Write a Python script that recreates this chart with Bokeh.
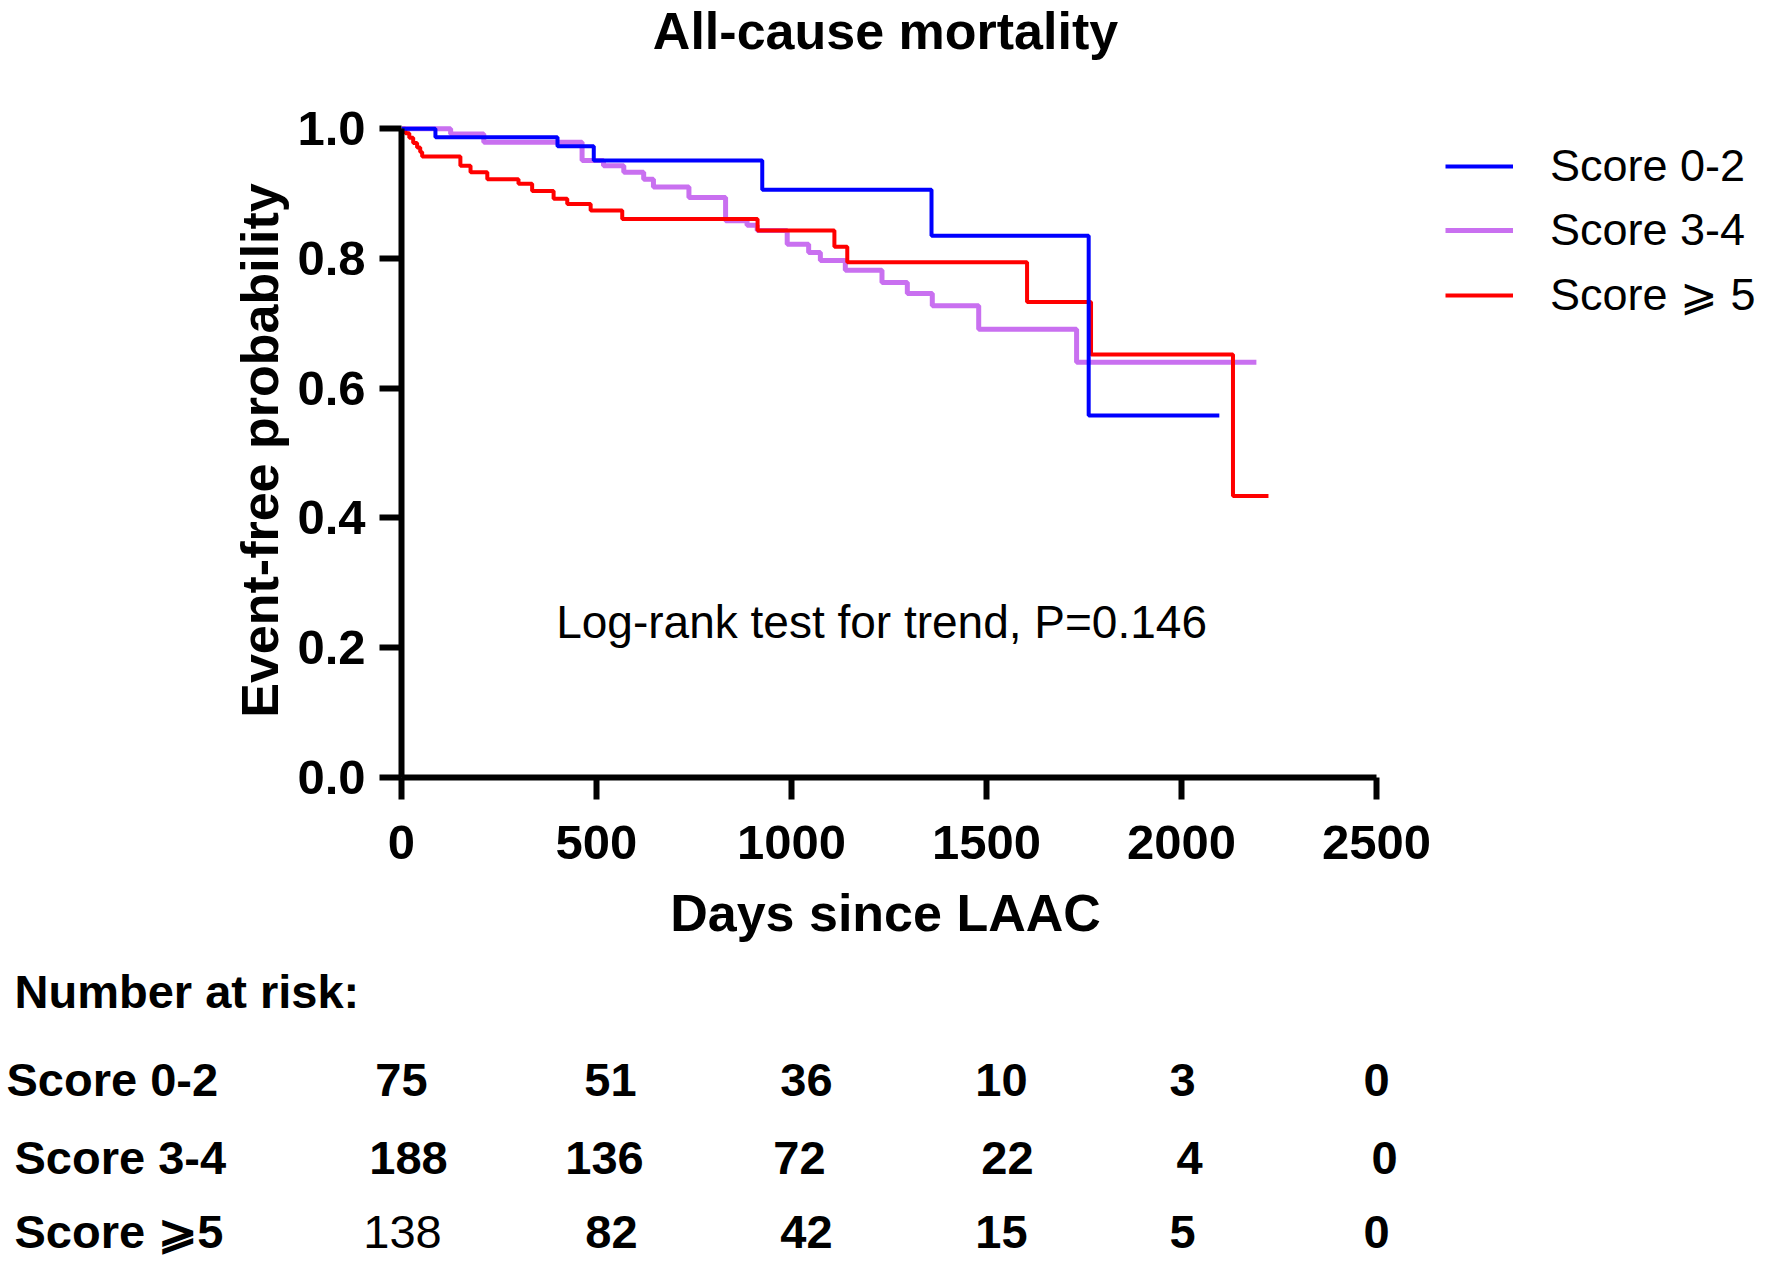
from bokeh.plotting import figure
from bokeh.models import (Range1d, FixedTicker, NumeralTickFormatter, Label,
                          ColumnDataSource, Legend, LegendItem)
from bokeh.core.properties import value
from bokeh.embed import file_html
from bokeh.resources import INLINE

# ---------------- data ----------------
title_text = "All-cause mortality"
x_label = "Days since LAAC"
y_label = "Event-free probability"
note_text = "Log-rank test for trend, P=0.146"
x_ticks = [0, 500, 1000, 1500, 2000, 2500]
y_ticks = [0.0, 0.2, 0.4, 0.6, 0.8, 1.0]

series_names = ["Score 0-2", "Score 3-4", "Score \u2a7e 5"]

t_02 = [0, 87, 400, 493, 925, 1359, 1762, 2097]
s_02 = [1.0, 0.987, 0.973, 0.951, 0.906, 0.835, 0.558, 0.558]

t_34 = [0, 126, 211, 463, 518, 570, 621, 646, 737, 831, 886, 912, 989, 1044, 1074,
        1138, 1232, 1297, 1361, 1480, 1731, 2192]
s_34 = [1.0, 0.992, 0.979, 0.951, 0.943, 0.933, 0.922, 0.910, 0.894, 0.858, 0.851, 0.843,
        0.822, 0.809, 0.797, 0.782, 0.763, 0.746, 0.727, 0.691, 0.640, 0.640]

t_5 = [0, 10, 20, 30, 40, 48, 53, 151, 177, 220, 300, 335, 390, 425, 485, 566, 913,
       1110, 1143, 1604, 1768, 2132, 2223]
s_5 = [1.0, 0.993, 0.986, 0.978, 0.971, 0.964, 0.957, 0.943, 0.933, 0.922, 0.915, 0.904,
       0.892, 0.884, 0.874, 0.861, 0.843, 0.818, 0.794, 0.733, 0.652, 0.434, 0.434]

risk_header = "Number at risk:"
risk_times = [0, 500, 1000, 1500, 2000, 2500]
risk_labels = ["Score 0-2", "Score 3-4", "Score \u2a7e5"]
risk_02 = [75, 51, 36, 10, 3, 0]
risk_34 = [188, 136, 72, 22, 4, 0]
risk_5 = [138, 82, 42, 15, 5, 0]

# ---------------- style / layout ----------------
BLUE, PURPLE, RED = "#0000FF", "#C970F0", "#FF0000"
FONT = "Liberation Sans"
W = 1756
H_TOP = 62
FRAME_TOP = 123
FRAME_BOTTOM = 777
MAIN_BOTTOM = 880
H_MAIN = MAIN_BOTTOM - H_TOP
H_TABLE = 1258 - MAIN_BOTTOM
PX_PER_DAY = 0.39
FRAME_LEFT = 401
Y_END = 1.008
FULL_X = (-FRAME_LEFT / PX_PER_DAY, (W - FRAME_LEFT) / PX_PER_DAY)


def bare(h, top_px, bottom_px):
    f = figure(width=W, height=h, output_backend="svg", toolbar_location=None,
               x_range=Range1d(*FULL_X), y_range=Range1d(bottom_px, top_px),
               x_axis_location=None, y_axis_location=None,
               min_border_left=0, min_border_right=0, min_border_top=0, min_border_bottom=0)
    f.xgrid.visible = False
    f.ygrid.visible = False
    f.outline_line_color = None
    return f


def days_at(px):
    return (px - FRAME_LEFT) / PX_PER_DAY


# ---------------- title strip ----------------
top = bare(H_TOP, 0, H_TOP)
top.text(x=[days_at(885)], y=[30], text=[title_text], text_align="center",
         text_baseline="middle", text_font=value(FONT), text_font_style="bold",
         text_font_size="52px", text_color="black")

# ---------------- main plot ----------------
p = figure(width=W, height=H_MAIN, output_backend="svg", toolbar_location=None,
           x_range=Range1d(0, FULL_X[1]), y_range=Range1d(0, Y_END),
           min_border_left=FRAME_LEFT, min_border_right=0,
           min_border_top=FRAME_TOP - H_TOP, min_border_bottom=MAIN_BOTTOM - FRAME_BOTTOM)
p.xgrid.visible = False
p.ygrid.visible = False
p.outline_line_color = None
p.background_fill_color = "white"

rp = p.step(t_34, s_34, mode="after", line_color=PURPLE, line_width=5)
rr = p.step(t_5, s_5, mode="after", line_color=RED, line_width=4)
rb = p.step(t_02, s_02, mode="after", line_color=BLUE, line_width=4)

for ax in (p.xaxis[0], p.yaxis[0]):
    ax.axis_line_width = 6
    ax.axis_line_color = "black"
    ax.major_tick_line_width = 6
    ax.major_tick_line_color = "black"
    ax.major_tick_out = 22
    ax.major_tick_in = 0
    ax.minor_tick_out = 0
    ax.minor_tick_in = 0
    ax.major_label_text_font = FONT
    ax.major_label_text_font_style = "bold"
    ax.major_label_text_font_size = "49px"
    ax.major_label_text_color = "black"
    ax.axis_label_text_font = FONT
    ax.axis_label_text_font_style = "bold"
    ax.axis_label_text_font_size = "52px"
    ax.axis_label_text_color = "black"

p.xaxis.ticker = FixedTicker(ticks=x_ticks)
p.yaxis.ticker = FixedTicker(ticks=y_ticks)
p.xaxis.bounds = (x_ticks[0], x_ticks[-1])
p.yaxis.bounds = (y_ticks[0], y_ticks[-1])
p.yaxis.formatter = NumeralTickFormatter(format="0.0")
p.xaxis.major_label_standoff = 26
p.yaxis.major_label_standoff = 14
p.yaxis.axis_label = y_label
p.yaxis.axis_label_standoff = 5

p.add_layout(Label(x=1231, y=0.240, text=note_text, text_align="center",
                   text_baseline="middle", text_font=FONT, text_font_size="46px",
                   text_color="black"))

legend = Legend(items=[LegendItem(label=series_names[0], renderers=[rb]),
                       LegendItem(label=series_names[1], renderers=[rp]),
                       LegendItem(label=series_names[2], renderers=[rr])],
                location=(1044, 456))
legend.label_text_font = FONT
legend.label_text_font_size = "45px"
legend.label_text_color = "black"
legend.glyph_width = 68
legend.glyph_height = 40
legend.label_standoff = 37
legend.spacing = 12
legend.padding = 0
legend.margin = 0
legend.border_line_color = None
legend.background_fill_alpha = 0
p.add_layout(legend)

# ---------------- x-axis title and number-at-risk table ----------------
q = bare(H_TABLE, MAIN_BOTTOM, 1258)

q.text(x=[days_at(885)], y=[912], text=[x_label], text_align="center",
       text_baseline="middle", text_font=value(FONT), text_font_style="bold",
       text_font_size="52px", text_color="black")

header_y = 991
row_y = [1079, 1157, 1231]
label_x = [days_at(6), days_at(14), days_at(14)]
cell_shift = [[0, 14, 15, 15, 1, 0],
              [7, 8, 8, 21, 8, 8],
              [1, 15, 15, 15, 1, 0]]
cell_bold = [[True] * 6,
             [True] * 6,
             [False] + [True] * 5]

q.text(x=[days_at(14)], y=[header_y], text=[risk_header], text_align="left",
       text_baseline="middle", text_font=value(FONT), text_font_style="bold",
       text_font_size="47px", text_color="black")
q.text(x=label_x, y=row_y, text=risk_labels, text_align="left",
       text_baseline="middle", text_font=value(FONT), text_font_style="bold",
       text_font_size="47px", text_color="black")

cells = {True: dict(x=[], y=[], text=[], dx=[]), False: dict(x=[], y=[], text=[], dx=[])}
for ry, shifts, bolds, counts in zip(row_y, cell_shift, cell_bold, [risk_02, risk_34, risk_5]):
    for t, cs, b, c in zip(risk_times, shifts, bolds, counts):
        d = cells[b]
        d["x"].append(t)
        d["y"].append(ry)
        d["text"].append(str(c))
        d["dx"].append(cs)
for b, style in ((True, "bold"), (False, "normal")):
    q.text(x="x", y="y", text="text", x_offset="dx", source=ColumnDataSource(data=cells[b]),
           text_align="center", text_baseline="middle", text_font=value(FONT),
           text_font_style=style, text_font_size="47px", text_color="black")

open("out.html", "w").write(file_html([top, p, q], INLINE))
